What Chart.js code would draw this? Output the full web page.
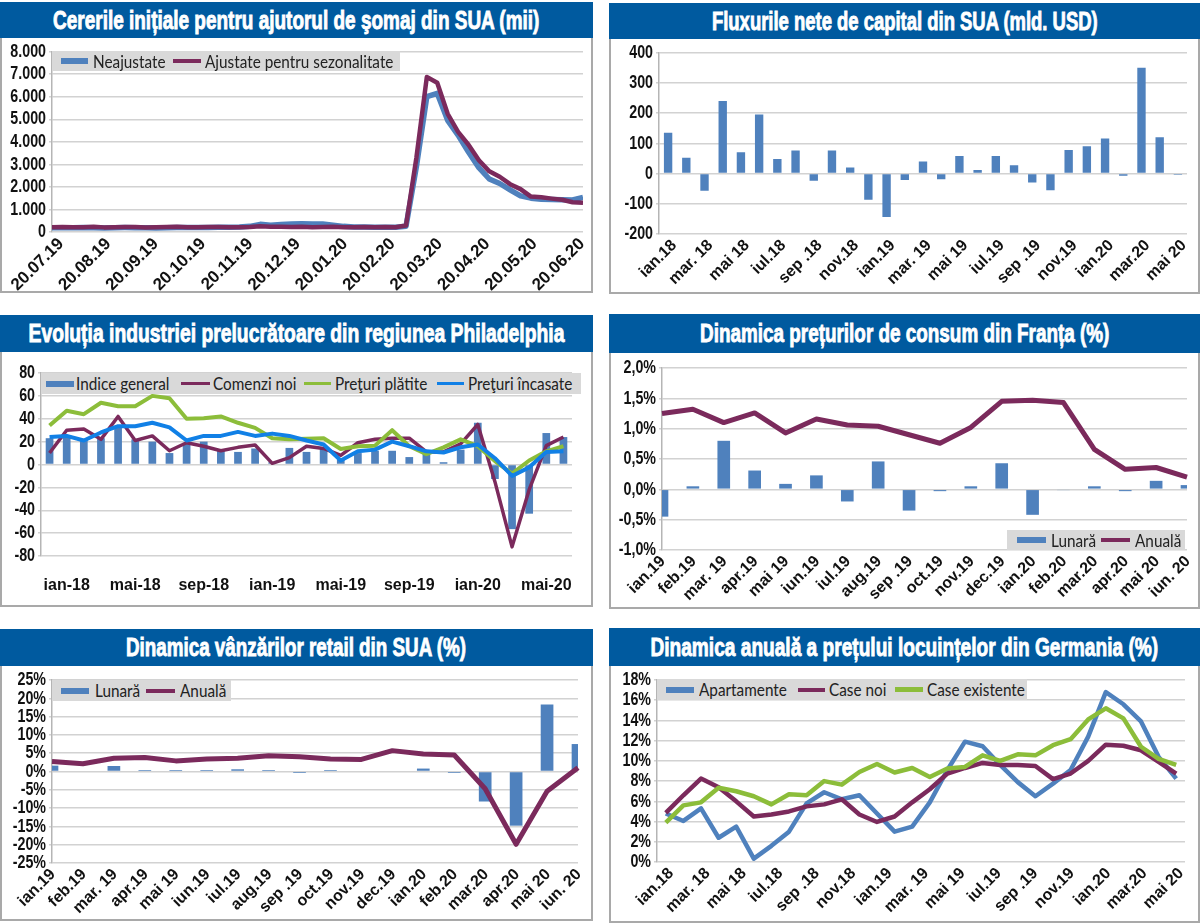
<!DOCTYPE html>
<html>
<head>
<meta charset="utf-8">
<title>Grafice</title>
<script src="https://cdn.jsdelivr.net/npm/chart.js@4/dist/chart.umd.min.js"></script>
<style>
html, body { margin: 0; padding: 0; background: #fff; }
.panel { position: absolute; box-sizing: border-box; border: 2px solid #a9a9a9; border-top: 0; background: #fff; }
.band { position: absolute; left: -2px; right: -2px; top: 0; background: #005a9f; color: #fff; display: flex; align-items: center; justify-content: center; overflow: hidden; }
.band span { display: inline-block; white-space: nowrap; font: bold 26px "Liberation Sans", sans-serif; -webkit-text-stroke: .9px #fff; }
canvas { position: absolute; }
.legendBox { position: absolute; background: #d9d9d9; }
.swatch { position: absolute; top: 50%; }
.legendText { position: absolute; top: 0; white-space: nowrap; font: 17.5px Lato, sans-serif; color: #222; transform: scaleX(.875); transform-origin: left center; }
</style>
</head>
<body>
<script>
// culori
var BLUE = '#4f81bd', PURPLE = '#7b2a5c', GREEN = '#8cbd3a', BRIGHT = '#1180e6';

// 1. cereri somaj
var claimsTicks = ['20.07.19','20.08.19','20.09.19','20.10.19','20.11.19','20.12.19','20.01.20','20.02.20','20.03.20','20.04.20','20.05.20','20.06.20'];
var claimsRaw = [190,185,190,195,185,180,190,195,190,185,180,190,195,195,200,205,210,215,225,250,340,300,330,350,365,360,350,300,250,225,220,215,210,215,250,2900,6000,6150,4950,4300,3550,2850,2350,2150,1870,1600,1500,1450,1440,1430,1420,1530];
var claimsAdj = [215,225,210,215,230,205,215,225,220,205,210,225,230,215,210,220,225,215,210,225,255,235,230,225,230,215,225,235,215,210,220,215,225,215,285,3300,6870,6620,5240,4440,3870,3180,2690,2450,2120,1900,1570,1540,1480,1430,1320,1300];

// 2. fluxuri capital
var flowMonths = ['ian.18','feb.18','mar. 18','apr.18','mai 18','iun.18','iul.18','aug.18','sep .18','oct.18','nov.18','dec.18','ian.19','feb.19','mar. 19','apr.19','mai 19','iun.19','iul.19','aug.19','sep .19','oct.19','nov.19','dec.19','ian.20','feb.20','mar.20','apr.20','mai 20'];
var flowValues = [135,52,-57,240,70,195,48,76,-24,76,20,-87,-144,-21,40,-19,58,12,58,27,-30,-55,78,90,116,-7,350,120,-4];

// 3. Philadelphia
var phillyMonths = ['dec-17','ian-18','feb-18','mar-18','apr-18','mai-18','iun-18','iul-18','aug-18','sep-18','oct-18','nov-18','dec-18','ian-19','feb-19','mar-19','apr-19','mai-19','iun-19','iul-19','aug-19','sep-19','oct-19','nov-19','dec-19','ian-20','feb-20','mar-20','apr-20','mai-20','iun-20'];
var phillyIndex = [23,25,22,23,32,22,20,10,19,20,12,11,14,2,14.5,11,14,4,10,12,12,6.5,10,2,13,36.5,-12.7,-56.5,-43,27.5,24];
var phillyOrders = [10,30,31,22,42,21,25,12,19,16,12,15,17,1,6,16,14,8,19,22,23,23,11,11,18,35,-15,-72,-22,16.5,24];
var phillyPaid = [34,47,44,54,51,51,60,58,40,40.5,42,36.5,32,23,22,22.5,23,13.5,16,16.5,30,16,9,15,22,16,3,-8,3.5,11.5,16];
var phillyReceived = [24,25,21,28,33.5,33.5,36.5,32.5,21,25,25,28.5,25,27,25,21,17.5,3.5,11.5,13,20,16,11.5,10.5,15,17.5,5.5,-10,-2.5,11,11.5];

// 4. Franta + 5. retail au aceleasi luni
var months1920 = ['ian.19','feb.19','mar. 19','apr.19','mai 19','iun.19','iul.19','aug.19','sep .19','oct.19','nov.19','dec.19','ian.20','feb.20','mar.20','apr.20','mai 20','iun. 20'];
var franceMonthly = [-0.45,0.05,0.8,0.31,0.09,0.23,-0.2,0.46,-0.35,-0.03,0.05,0.43,-0.42,-0.01,0.05,-0.03,0.14,0.07];
var franceYearly = [1.25,1.32,1.1,1.26,0.93,1.16,1.06,1.04,0.9,0.76,1.02,1.45,1.47,1.43,0.66,0.33,0.36,0.2];
var retailMonthly = [1.6,0,1.5,0.4,0.4,0.4,0.6,0.4,-0.4,0.4,0,0,0.8,-0.4,-8.2,-14.8,18.3,7.5];
var retailYearly = [2.7,2.1,3.6,3.8,2.9,3.4,3.6,4.3,4,3.4,3.3,5.7,4.8,4.5,-4.7,-19.9,-5.4,1];

// 6. locuinte Germania
var houseTicks = ['ian.18','mar. 18','mai 18','iul.18','sep .18','nov.18','ian.19','mar. 19','mai 19','iul.19','sep .19','nov.19','ian.20','mar.20','mai 20'];
var houseFlats = [4.8,4.06,5.3,2.4,3.5,0.33,1.6,3,5.8,6.9,6.2,6.6,4.8,3,3.5,5.9,9.1,11.9,11.45,9.6,7.9,6.5,7.75,9.1,12.4,16.8,15.6,13.9,10.4,8.25];
var houseNew = [4.85,6.6,8.25,7.4,6,4.5,4.7,5,5.5,5.7,6.2,4.7,3.96,4.5,5.9,7.2,8.75,9.3,9.8,9.6,9.6,9.5,8.2,8.75,10,11.6,11.5,11.05,9.9,8.75];
var houseOld = [3.9,5.6,5.9,7.35,7,6.5,5.7,6.7,6.6,8,7.65,8.9,9.7,8.85,9.3,8.4,9.25,9.4,10.55,10,10.65,10.55,11.55,12.15,14.1,15.2,14.2,11.4,10.2,9.6];

var catFont = { family: '"Liberation Sans", sans-serif', weight: 'bold', size: 16 };

// nu exista font ingust instalat: etichetele axei Y sunt desenate comprimate pe orizontala
Chart.register({
    id: 'narrowY',
    afterDraw: function (chart) {
        var s = chart.scales.y, ctx = chart.ctx;
        ctx.save();
        ctx.font = 'bold 19px "Liberation Sans", sans-serif';
        ctx.fillStyle = '#111';
        ctx.textAlign = 'right';
        ctx.textBaseline = 'middle';
        s.ticks.forEach(function (t, i) {
            ctx.save();
            ctx.translate(s.right - 6, s.getPixelForTick(i));
            ctx.scale(0.75, 1);
            ctx.fillText(t.label, 0, 0);
            ctx.restore();
        });
        ctx.restore();
    }
});

function line(label, data, color, width, order) {
    return { type: 'line', label: label, data: data, borderColor: color, backgroundColor: color, borderWidth: width, pointRadius: 0, tension: 0, order: order, borderJoinStyle: 'round' };
}
function bar(label, data, pct, order) {
    return { type: 'bar', label: label, data: data, backgroundColor: BLUE, barPercentage: pct, categoryPercentage: 1, order: order };
}
function xy(values) {
    return values.map(function (v, i) { return { x: i, y: v }; });
}

// desenează un panou: box = [stanga, sus banda, dreapta, jos banda, jos panou], plot = [stanga, sus, dreapta, jos]
function panel(cfg) {
    var box = cfg.box, plot = cfg.plot;
    var div = document.createElement('div');
    div.className = 'panel';
    div.style.cssText = 'left:' + box[0] + 'px;top:' + box[1] + 'px;width:' + (box[2] - box[0]) + 'px;height:' + (box[4] - box[1]) + 'px';
    document.body.appendChild(div);

    var band = document.createElement('div');
    band.className = 'band';
    band.style.height = (box[3] - box[1]) + 'px';
    var span = document.createElement('span');
    span.textContent = cfg.title;
    band.appendChild(span);
    div.appendChild(band);
    span.style.transform = 'scaleX(' + (cfg.titleWidth / span.offsetWidth) + ')';

    var left = box[0] + 2, top = box[3] + 1, width = box[2] - box[0] - 4, height = box[4] - box[3] - 3;
    var canvas = document.createElement('canvas');
    canvas.width = width;
    canvas.height = height;
    canvas.style.cssText = 'left:0;top:' + (top - box[1]) + 'px;width:' + width + 'px;height:' + height + 'px';
    div.appendChild(canvas);

    var x = cfg.x;
    x.grid = { display: false, drawTicks: false };
    x.border = { display: false };
    x.afterFit = function (s) { s.height = top + height - plot[3]; s.paddingLeft = 0; s.paddingRight = 0; };

    new Chart(canvas, {
        data: cfg.data,
        options: {
            responsive: false,
            animation: false,
            layout: { padding: { top: plot[1] - top, right: left + width - plot[2], left: 0, bottom: 0 } },
            plugins: { legend: { display: false }, tooltip: { enabled: false } },
            scales: {
                x: x,
                y: {
                    min: cfg.y[0], max: cfg.y[1],
                    ticks: { stepSize: cfg.y[2], color: 'transparent', font: { size: 16 }, padding: 3, callback: cfg.yFormat, autoSkip: false },
                    grid: { color: '#d2d2d2', lineWidth: 1.5, tickLength: 3 },
                    border: { color: '#b5b5b5', width: 1.5 },
                    afterFit: function (s) { s.width = plot[0] - left; }
                }
            }
        }
    });

    // legenda [stanga, sus, dreapta, jos], elemente: culoare, grosime, x1, x2, xText, text
    var lb = cfg.legendBox;
    if (!lb) return;
    var lg = document.createElement('div');
    lg.className = 'legendBox';
    lg.style.cssText = 'left:' + (lb[0] - box[0] - 2) + 'px;top:' + (lb[1] - box[1]) + 'px;width:' + (lb[2] - lb[0]) + 'px;height:' + (lb[3] - lb[1]) + 'px;line-height:' + (lb[3] - lb[1]) + 'px';
    cfg.legend.forEach(function (it) {
        var sw = document.createElement('div');
        sw.className = 'swatch';
        sw.style.cssText = 'left:' + (it[2] - lb[0]) + 'px;width:' + (it[3] - it[2]) + 'px;height:' + it[1] + 'px;margin-top:' + (-it[1] / 2) + 'px;background:' + it[0];
        lg.appendChild(sw);
        var t = document.createElement('div');
        t.className = 'legendText';
        t.style.left = (it[4] - lb[0]) + 'px';
        t.textContent = it[5];
        lg.appendChild(t);
    });
    div.appendChild(lg);
}

function rotated(size, shift, callback) {
    return { color: '#111', font: { family: catFont.family, weight: 'bold', size: size }, maxRotation: 45, minRotation: 45, autoSkip: false, padding: 2, labelOffset: shift, callback: callback };
}
function evenTicks(step, first) {
    return function (s) {
        s.ticks = s.chart.options.scales.x.tickLabels.map(function (_, i) { return { value: first + i * step }; });
    };
}
function percent(v) { return v + '%'; }
function monthLabel(v, i) { return months1920[i]; }

// 1
panel({
    box: [0, 2, 593, 38, 293], plot: [52, 51, 583, 232],
    title: 'Cererile inițiale pentru ajutorul de şomaj din SUA (mii)', titleWidth: 486,
    data: { datasets: [line('Neajustate', xy(claimsRaw), BLUE, 5.5, 2), line('Ajustate pentru sezonalitate', xy(claimsAdj), PURPLE, 4.5, 1)] },
    x: { type: 'linear', min: 0, max: 51, tickLabels: claimsTicks, afterBuildTicks: evenTicks(4.55, 0), ticks: rotated(17, 9, function (v, i) { return claimsTicks[i]; }) },
    y: [0, 8000, 1000], yFormat: function (v) { return v === 0 ? '0' : v.toLocaleString('de-DE'); },
    legendBox: [52, 51, 400, 71],
    legend: [[BLUE, 6, 61, 88, 93, 'Neajustate'], [PURPLE, 4, 173, 201, 205, 'Ajustate pentru sezonalitate']]
});

// 2
panel({
    box: [609, 3, 1200, 39, 294], plot: [659, 52, 1187, 234],
    title: 'Fluxurile nete de capital din SUA (mld. USD)', titleWidth: 386,
    data: { labels: flowMonths, datasets: [bar('Flux', flowValues, 0.46, 1)] },
    x: { type: 'category', ticks: rotated(16, 6, function (v, i) { return i % 2 === 0 ? flowMonths[i] : ''; }) },
    y: [-200, 400, 100]
});

// 3
panel({
    box: [0, 315, 593, 352, 607], plot: [41, 373, 572, 556],
    title: 'Evoluția industriei prelucrătoare din regiunea Philadelphia', titleWidth: 536,
    data: {
        labels: phillyMonths,
        datasets: [
            bar('Indice general', phillyIndex, 0.45, 4),
            line('Comenzi noi', phillyOrders, PURPLE, 3.5, 3),
            line('Preţuri plătite', phillyPaid, GREEN, 4, 2),
            line('Preţuri încasate', phillyReceived, BRIGHT, 4, 1)
        ]
    },
    x: { type: 'category', ticks: { color: '#111', font: catFont, maxRotation: 0, minRotation: 0, autoSkip: false, padding: 20, callback: function (v, i) { return i % 4 === 1 ? phillyMonths[i] : ''; } } },
    y: [-80, 80, 20],
    legendBox: [41, 373, 581, 394],
    legend: [[BLUE, 6, 46, 74, 76, 'Indice general'], [PURPLE, 3, 181, 210, 213, 'Comenzi noi'], [GREEN, 3, 304, 331, 335, 'Preţuri plătite'], [BRIGHT, 3, 437, 464, 468, 'Preţuri încasate']]
});

// 4
panel({
    box: [609, 314, 1200, 353, 609], plot: [662, 368, 1187, 550],
    title: 'Dinamica prețurilor de consum din Franța (%)', titleWidth: 409,
    data: { labels: months1920, datasets: [bar('Lunară', franceMonthly, 0.41, 2), line('Anuală', franceYearly, PURPLE, 5, 1)] },
    x: { type: 'category', offset: false, ticks: rotated(16, 1, monthLabel) },
    y: [-1, 2, 0.5], yFormat: function (v) { return v.toFixed(1).replace('.', ',') + '%'; },
    legendBox: [1007, 530, 1185, 550],
    legend: [[BLUE, 6, 1017, 1046, 1051, 'Lunară'], [PURPLE, 4, 1101, 1130, 1135, 'Anuală']]
});

// 5
panel({
    box: [0, 629, 593, 666, 921], plot: [52, 680, 578, 863],
    title: 'Dinamica vânzărilor retail din SUA (%)', titleWidth: 340,
    data: { labels: months1920, datasets: [bar('Lunară', retailMonthly, 0.41, 2), line('Anuală', retailYearly, PURPLE, 5, 1)] },
    x: { type: 'category', offset: false, ticks: rotated(16, 1, monthLabel) },
    y: [-25, 25, 5], yFormat: percent,
    legendBox: [52, 680, 231, 701],
    legend: [[BLUE, 6, 61, 89, 95, 'Lunară'], [PURPLE, 4, 146, 175, 180, 'Anuală']]
});

// 6
panel({
    box: [609, 628, 1200, 666, 923], plot: [657, 680, 1185, 862],
    title: 'Dinamica anuală a prețului locuințelor din Germania (%)', titleWidth: 508,
    data: { datasets: [line('Apartamente', xy(houseFlats), BLUE, 4.5, 3), line('Case noi', xy(houseNew), PURPLE, 4.5, 2), line('Case existente', xy(houseOld), GREEN, 4.5, 1)] },
    x: { type: 'linear', min: -0.5, max: 29.5, tickLabels: houseTicks, afterBuildTicks: evenTicks(2.07, 0.02), ticks: rotated(16, 5, function (v, i) { return houseTicks[i]; }) },
    y: [0, 18, 2], yFormat: percent,
    legendBox: [657, 679, 1027, 700],
    legend: [[BLUE, 6, 666, 694, 699, 'Apartamente'], [PURPLE, 4, 798, 825, 829, 'Case noi'], [GREEN, 5, 895, 923, 927, 'Case existente']]
});
</script>
</body>
</html>
